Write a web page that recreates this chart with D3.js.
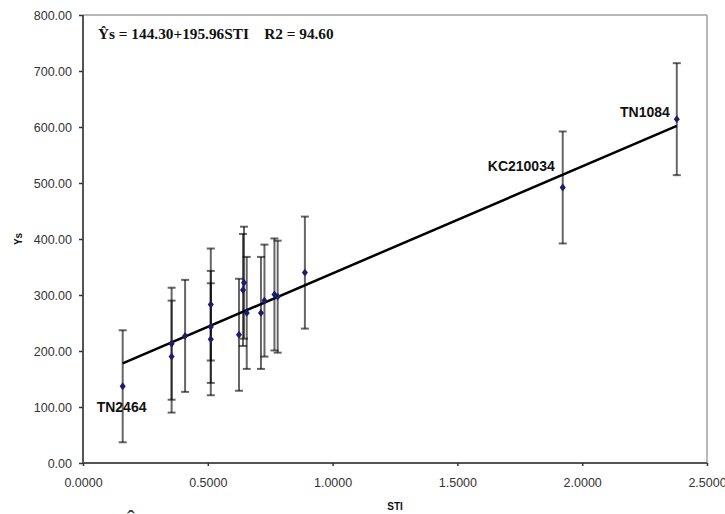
<!DOCTYPE html>
<html>
<head>
<meta charset="utf-8">
<script src="https://cdn.jsdelivr.net/npm/d3@7"></script>
<style>
  html, body { margin: 0; padding: 0; background: #fff; }
  svg { display: block; }
</style>
</head>
<body>
<svg id="chart" width="725" height="514"></svg>
<script>
// ---- data ----
const genotypes = ["TN2464", "", "", "", "", "", "", "", "", "", "", "", "", "", "", "", "KC210034", "TN1084"];
const stiValues = [0.159, 0.355, 0.355, 0.409, 0.512, 0.512, 0.512, 0.625, 0.641, 0.645, 0.656, 0.713, 0.727, 0.767, 0.780, 0.889, 1.922, 2.379];
const ysValues  = [137, 190, 213, 227, 283, 243, 221, 229, 309, 322, 268, 268, 290, 301, 297, 340, 492, 614];
const errValues = [100, 100, 100, 100, 100, 100, 100, 100, 100, 100, 100, 100, 100, 100, 100, 100, 100, 100];
const fitSTI = [0.159, 2.379];
const fitYs  = [178, 602];
const xTicks = [0, 0.5, 1.0, 1.5, 2.0, 2.5];
const yTicks = [0, 100, 200, 300, 400, 500, 600, 700, 800];
const equationText = "Ŷs = 144.30+195.96STI    R2 = 94.60";
const xTitle = "STI";
const yTitle = "Ys";

// ---- layout ----
const L = 83, R = 707, T = 15, B = 463;
const svg = d3.select("#chart");
const x = d3.scaleLinear().domain([0, 2.5]).range([L, R]);
const y = d3.scaleLinear().domain([0, 800]).range([B, T]);

// frame (top / right light border)
svg.append("line").attr("x1", L).attr("x2", R).attr("y1", T).attr("y2", T)
  .attr("stroke", "#a0a0a0").attr("stroke-width", 1.5);
svg.append("line").attr("x1", R).attr("x2", R).attr("y1", T).attr("y2", B)
  .attr("stroke", "#a0a0a0").attr("stroke-width", 1.5);

// axes
const xAxis = d3.axisBottom(x).tickValues(xTicks).tickFormat(d3.format(".4f")).tickSize(3).tickPadding(12);
const yAxis = d3.axisLeft(y).tickValues(yTicks).tickFormat(d3.format(".2f")).tickSize(4).tickPadding(7);

const gx = svg.append("g").attr("transform", `translate(0,${B})`).call(xAxis);
const gy = svg.append("g").attr("transform", `translate(${L},0)`).call(yAxis);
[gx, gy].forEach(g => {
  g.select(".domain").attr("stroke", "#555").attr("stroke-width", 2);
  g.selectAll(".tick line").attr("stroke", "#333").attr("stroke-width", 1.5);
  g.selectAll(".tick text").attr("fill", "#333")
    .style("font-family", "'Liberation Sans', Arial, sans-serif").style("font-size", "12.5px");
});
gx.select(".domain").attr("d", `M${L},0H${R}`);
gy.select(".domain").attr("d", `M0,${B}V${T}`);

// error bars
const pts = stiValues.map((s, i) => ({ s, v: ysValues[i], e: errValues[i], name: genotypes[i] }));
const eb = svg.append("g").attr("stroke", "#000").attr("stroke-opacity", 0.6).attr("stroke-width", 2);
pts.forEach(p => {
  const cx = x(p.s);
  eb.append("line").attr("x1", cx).attr("x2", cx).attr("y1", y(p.v - p.e)).attr("y2", y(p.v + p.e));
  eb.append("line").attr("x1", cx - 4).attr("x2", cx + 4).attr("y1", y(p.v - p.e)).attr("y2", y(p.v - p.e));
  eb.append("line").attr("x1", cx - 4).attr("x2", cx + 4).attr("y1", y(p.v + p.e)).attr("y2", y(p.v + p.e));
});

// fitted line
svg.append("path")
  .datum(fitSTI.map((s, i) => [s, fitYs[i]]))
  .attr("d", d3.line().x(d => x(d[0])).y(d => y(d[1])))
  .attr("fill", "none").attr("stroke", "#000").attr("stroke-width", 2.5);

// markers
svg.append("g").selectAll("path").data(pts).join("path")
  .attr("d", d3.symbol(d3.symbolDiamond).size(22))
  .attr("transform", d => `translate(${x(d.s)},${y(d.v)}) scale(1.2,0.9)`)
  .attr("fill", "#1c1c70");

// point labels
const labelStyle = {
  "TN2464":   { dx: -26, dy: 21, anchor: "start" },
  "KC210034": { dx: -8,  dy: -21, anchor: "end" },
  "TN1084":   { dx: -7,  dy: -7, anchor: "end" }
};
pts.filter(p => p.name).forEach(p => {
  const st = labelStyle[p.name];
  svg.append("text")
    .attr("x", x(p.s) + st.dx).attr("y", y(p.v) + st.dy)
    .attr("text-anchor", st.anchor).attr("dominant-baseline", "central")
    .style("font-family", "'Liberation Sans', Arial, sans-serif")
    .style("font-size", "14px").style("font-weight", "bold").attr("fill", "#111")
    .text(p.name);
});

// equation
svg.append("text").attr("x", 98).attr("y", 33).attr("dominant-baseline", "central")
  .style("font-family", "'Liberation Serif', 'Times New Roman', serif")
  .style("font-size", "15.3px").style("font-weight", "bold").attr("fill", "#111")
  .attr("xml:space", "preserve")
  .text(equationText);

// axis titles
svg.append("text").attr("x", (L + R) / 2).attr("y", 506).attr("text-anchor", "middle")
  .attr("dominant-baseline", "central")
  .style("font-family", "'Liberation Sans', Arial, sans-serif")
  .style("font-size", "10px").style("font-weight", "bold").attr("fill", "#111").text(xTitle);
svg.append("text").attr("transform", `translate(18,${(T + B) / 2}) rotate(-90)`)
  .attr("text-anchor", "middle").attr("dominant-baseline", "central")
  .style("font-family", "'Liberation Sans', Arial, sans-serif")
  .style("font-size", "10px").style("font-weight", "bold").attr("fill", "#111").text(yTitle);

// stray glyph of following document line (cropped at bottom, as in the reference)
svg.append("text").attr("x", 131).attr("y", 530).attr("text-anchor", "middle")
  .style("font-family", "'Liberation Serif', serif").style("font-size", "24px").attr("fill", "#333")
  .text("Ŷ");
</script>
</body>
</html>
